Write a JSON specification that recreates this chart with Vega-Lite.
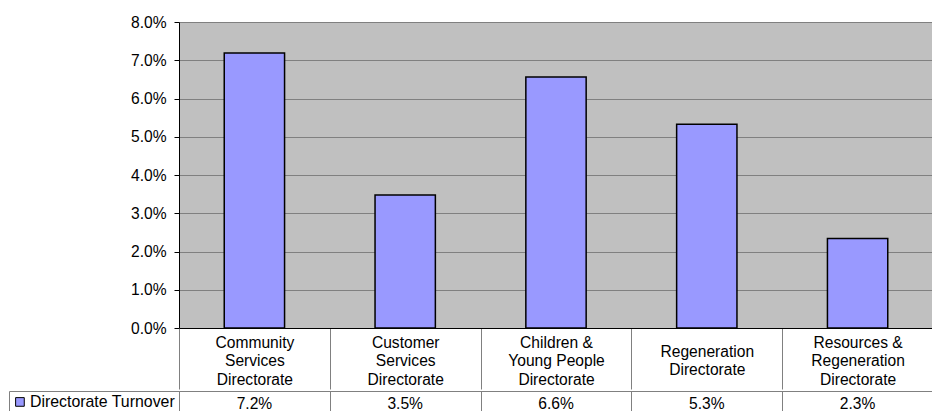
{
  "$schema": "https://vega.github.io/schema/vega-lite/v6.json",
  "padding": {"left": 8, "top": 15, "right": 0, "bottom": 0},
  "spacing": 0,
  "config": {
    "font": "Liberation Sans",
    "axis": {"labelFont": "Liberation Sans", "labelColor": "#000000"},
    "legend": {"labelFont": "Liberation Sans"}
  },
  "resolve": {"legend": {"color": "independent"}, "scale": {"color": "independent"}},
  "data": {
    "values": [
      {"directorate": "Community|Services|Directorate", "turnover": 0.0719, "series": "Directorate Turnover"},
      {"directorate": "Customer|Services|Directorate", "turnover": 0.0348, "series": "Directorate Turnover"},
      {"directorate": "Children &|Young People|Directorate", "turnover": 0.0656, "series": "Directorate Turnover"},
      {"directorate": "Regeneration|Directorate", "turnover": 0.0533, "series": "Directorate Turnover"},
      {"directorate": "Resources &|Regeneration|Directorate", "turnover": 0.0234, "series": "Directorate Turnover"}
    ]
  },
  "vconcat": [
    {
      "width": 754,
      "height": 306,
      "view": {"fill": "#C0C0C0", "stroke": null},
      "mark": {"type": "bar", "fill": "#9999FF", "stroke": "#000000", "strokeWidth": 1.5, "width": {"band": 0.4}},
      "encoding": {
        "x": {
          "field": "directorate",
          "type": "nominal",
          "sort": null,
          "scale": {"paddingInner": 0, "paddingOuter": 0},
          "axis": {
            "title": null,
            "labelExpr": "split(datum.label, '|')",
            "labelAngle": 0,
            "labelBaseline": "middle",
            "labelFontSize": 15.6,
            "labelLineHeight": 18.3,
            "labelPadding": {"condition": {"test": "datum.value == 'Regeneration|Directorate'", "value": -37.5}, "value": -46.5},
            "labelLimit": 300,
            "labelOverlap": false,
            "labelBound": false,
            "labelFlush": false,
            "tickBand": "extent",
            "tickSize": 61,
            "tickColor": "#808080",
            "tickWidth": 1,
            "domainColor": "#000000",
            "domainWidth": 1,
            "zindex": 1
          }
        },
        "y": {
          "field": "turnover",
          "type": "quantitative",
          "scale": {"domain": [0, 0.08]},
          "axis": {
            "title": null,
            "values": [0, 0.01, 0.02, 0.03, 0.04, 0.05, 0.06, 0.07, 0.08],
            "format": ".1%",
            "labelFontSize": 15.6,
            "labelPadding": 8,
            "tickSize": 5,
            "tickColor": "#000000",
            "domainColor": "#000000",
            "grid": true,
            "gridColor": "#808080",
            "gridWidth": 1
          }
        }
      }
    },
    {
      "width": 754,
      "height": 21,
      "view": {"stroke": "#808080", "strokeWidth": 1, "fill": null},
      "encoding": {
        "x": {
          "field": "directorate",
          "type": "nominal",
          "sort": null,
          "scale": {"paddingInner": 0, "paddingOuter": 0},
          "axis": {
            "title": null,
            "labels": false,
            "ticks": false,
            "domain": false,
            "grid": true,
            "gridColor": "#808080",
            "gridWidth": 1,
            "tickBand": "extent"
          }
        }
      },
      "layer": [
        {
          "mark": {"type": "text", "fontSize": 15.6, "baseline": "middle", "dy": 2, "color": "#000000"},
          "encoding": {"text": {"field": "turnover", "type": "quantitative", "format": ".1%"}}
        },
        {
          "mark": {"type": "point", "filled": true, "opacity": 0, "shape": "square"},
          "encoding": {
            "color": {
              "field": "series",
              "type": "nominal",
              "scale": {"range": ["#9999FF"]},
              "legend": {
                "orient": "left",
                "offset": 0,
                "title": null,
                "padding": 3,
                "strokeColor": "#808080",
                "symbolType": "square",
                "symbolSize": 75,
                "symbolStrokeColor": "#000000",
                "symbolStrokeWidth": 1,
                "symbolOpacity": 1,
                "symbolOffset": 0,
                "labelFontSize": 15.9,
                "labelOffset": 2,
                "labelColor": "#000000"
              }
            }
          }
        }
      ]
    }
  ]
}
